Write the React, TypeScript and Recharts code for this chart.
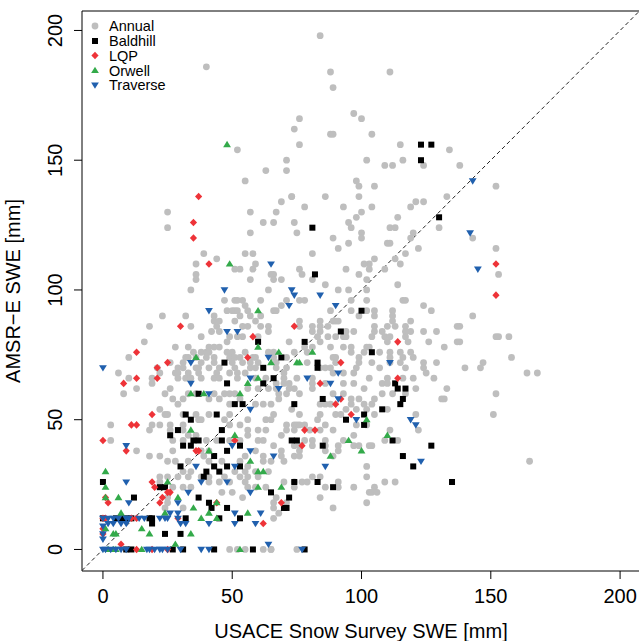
import React from 'react';
import { ScatterChart, Scatter, XAxis, YAxis, ReferenceLine, ReferenceArea } from 'recharts';

// [USACE snow survey SWE, AMSR-E SWE] in mm
const annual: [number, number][] = [
  [40, 186], [52, 154], [63, 146], [55, 142],
  [84, 198], [88, 184], [111, 184], [89, 178], [76, 166], [97, 168], [100, 166], [74, 162], [88, 160], [89, 160],
  [104, 160], [76, 156], [115, 156], [134, 154], [71, 150], [71, 146], [102, 150], [109, 148], [112, 148], [116, 150],
  [124, 148], [138, 148], [98, 142], [99, 140], [105, 140], [73, 136], [86, 136], [99, 136], [133, 136], [152, 140],
  [143, 120], [152, 116], [153, 106], [143, 90], [138, 86], [137, 80], [138, 80], [152, 82], [153, 82], [157, 82],
  [158, 74], [147, 72], [140, 70], [146, 70], [164, 68], [168, 68], [152, 60], [151, 52], [165, 34],
  [25, 130], [57, 130], [25, 124], [62, 126], [57, 122], [39, 114], [44, 112], [55, 114], [58, 114], [36, 110],
  [51, 108], [53, 108], [59, 110], [58, 108], [36, 106], [36, 104], [65, 106], [57, 104], [34, 100], [64, 100],
  [47, 96], [51, 96], [52, 96], [54, 96], [61, 96], [55, 94], [48, 92], [50, 92], [51, 92], [52, 92], [56, 92],
  [23, 90], [32, 90], [43, 90], [53, 90], [57, 90], [61, 90], [43, 88], [45, 88], [51, 88], [59, 88], [18, 86],
  [34, 86], [44, 86], [54, 86], [56, 86], [61, 86], [64, 86], [42, 84], [45, 84], [49, 82], [38, 82], [52, 82],
  [54, 82], [64, 84], [60, 82], [16, 80], [48, 80], [28, 78], [33, 78], [41, 78], [43, 78], [45, 78], [38, 76],
  [40, 76], [41, 76], [35, 76], [48, 76], [50, 76], [55, 76], [64, 76], [10, 74], [32, 74], [33, 74], [36, 74],
  [40, 74], [43, 74], [49, 74], [51, 74], [53, 74], [58, 74], [59, 74], [26, 72], [31, 72], [38, 72], [43, 72],
  [50, 72], [54, 72], [57, 72], [60, 72], [6, 68], [21, 70], [29, 70], [31, 70], [36, 70], [37, 70], [41, 70],
  [45, 70], [51, 70], [57, 70], [59, 70], [22, 68], [28, 68], [29, 68], [33, 68], [37, 68], [44, 68], [49, 68],
  [52, 68], [55, 68], [10, 66], [19, 66], [29, 66], [32, 66], [34, 66], [38, 66], [43, 66], [45, 66], [52, 66],
  [59, 66], [63, 66],
  [69, 134], [73, 136], [67, 130], [78, 132], [93, 132], [104, 132], [121, 134], [124, 134], [66, 126], [74, 126],
  [95, 126], [98, 128], [100, 130], [119, 132], [114, 128], [75, 122], [96, 124], [100, 122], [111, 124], [113, 124],
  [130, 124], [89, 120], [100, 120], [120, 122], [110, 118], [111, 118], [95, 118], [119, 120], [91, 116], [122, 116],
  [81, 114], [105, 112], [103, 110], [101, 110], [113, 112], [117, 114], [115, 110], [109, 108], [103, 108], [94, 108],
  [76, 108], [99, 106], [77, 106], [66, 106], [69, 104], [66, 104], [81, 104], [102, 104], [86, 102], [114, 102],
  [91, 100], [95, 100], [102, 100], [96, 96], [102, 96], [76, 96], [78, 96], [71, 96], [116, 96], [117, 96],
  [69, 94], [66, 92], [67, 92], [88, 92], [96, 92], [102, 92], [105, 92], [112, 92], [124, 94], [127, 92],
  [99, 90], [105, 90], [112, 90], [76, 88], [84, 88], [89, 88], [90, 88], [91, 88], [119, 88], [112, 88],
  [76, 86], [81, 86], [84, 86], [87, 86], [105, 86], [110, 86], [113, 86], [117, 86], [137, 86], [94, 84],
  [97, 84], [81, 84], [84, 84], [105, 84], [108, 84], [117, 84], [119, 84], [124, 84], [129, 84], [72, 80],
  [84, 80], [90, 82], [93, 82], [94, 82], [87, 82], [83, 82], [104, 82], [109, 82], [111, 82], [117, 82],
  [110, 80], [118, 80], [126, 80], [88, 78], [93, 78], [96, 78], [102, 78], [103, 78], [81, 78], [78, 78],
  [132, 78], [66, 76], [74, 76], [79, 76], [96, 76], [101, 76], [107, 76], [111, 76], [115, 76], [119, 76],
  [66, 74], [71, 74], [89, 74], [90, 74], [99, 74], [111, 74], [116, 74], [120, 74], [67, 72], [79, 72],
  [90, 72], [99, 72], [104, 72], [111, 72], [115, 72], [124, 72], [129, 72], [67, 70], [71, 70], [84, 70],
  [86, 70], [88, 70], [98, 70], [107, 70], [117, 70], [124, 70], [70, 66], [75, 66], [81, 66], [103, 66],
  [110, 66], [116, 66], [120, 66], [128, 66], [70, 68], [89, 68], [93, 68], [97, 68], [125, 68], [67, 64],
  [81, 64], [97, 64], [108, 64],
  [8, 60], [13, 62], [19, 64], [24, 60], [26, 62], [27, 58], [29, 56], [31, 58], [33, 60], [36, 60],
  [43, 60], [47, 60], [49, 60], [51, 60], [56, 62], [60, 62], [64, 62], [41, 58], [45, 58], [49, 56],
  [53, 58], [59, 56], [62, 56], [65, 56], [22, 54], [24, 52], [25, 52], [31, 52], [36, 52], [41, 52],
  [49, 52], [37, 50], [38, 50], [47, 50], [56, 50], [63, 50], [3, 48], [19, 48], [22, 48], [26, 48],
  [31, 48], [18, 46], [26, 46], [31, 46], [49, 48], [53, 48], [56, 46], [60, 46], [63, 46], [33, 44],
  [36, 44], [56, 44], [3, 42], [27, 42], [31, 42], [40, 42], [44, 42], [49, 42], [53, 42], [60, 42],
  [62, 42], [13, 38], [27, 38], [38, 38], [41, 38], [18, 36], [22, 36], [39, 36], [55, 36], [59, 38],
  [62, 36], [25, 34], [28, 34], [33, 34], [41, 34], [46, 34], [53, 34], [62, 34], [65, 34], [31, 30],
  [34, 30], [51, 30], [56, 32], [55, 30], [59, 30], [64, 30], [22, 28], [25, 28], [29, 28], [33, 28],
  [38, 28], [41, 28], [47, 28], [53, 28], [56, 28], [60, 28], [22, 26], [41, 26], [45, 26], [49, 26],
  [55, 26], [27, 24], [31, 24], [34, 24], [56, 24], [59, 24], [63, 24], [46, 22], [50, 22], [54, 20],
  [25, 20], [24, 16], [31, 16], [25, 18], [49, 0], [52, 0], [55, 0], [62, 0], [65, 0],
  [70, 64], [72, 64], [74, 62], [76, 60], [67, 62], [72, 62], [81, 62], [86, 64], [93, 64], [101, 62],
  [110, 64], [121, 62], [133, 62], [89, 60], [93, 60], [96, 58], [99, 58], [105, 58], [108, 60], [112, 60],
  [117, 60], [132, 58], [131, 58], [68, 60], [71, 60], [68, 58], [84, 56], [86, 56], [88, 56], [96, 56],
  [101, 56], [104, 56], [66, 52], [73, 54], [76, 52], [84, 52], [90, 52], [92, 52], [94, 54], [98, 54],
  [102, 54], [105, 52], [110, 54], [121, 52], [122, 46], [65, 50], [71, 48], [74, 48], [75, 48], [76, 48],
  [78, 48], [83, 50], [86, 48], [98, 48], [102, 48], [71, 46], [74, 46], [80, 46], [84, 46], [89, 46],
  [69, 44], [78, 42], [81, 42], [86, 42], [93, 42], [97, 44], [109, 42], [114, 42], [111, 46], [66, 40],
  [74, 40], [76, 40], [81, 40], [86, 40], [91, 40], [97, 40], [99, 40], [103, 40], [104, 40], [86, 38],
  [89, 36], [91, 38], [69, 38], [76, 38], [74, 36], [76, 36], [69, 36], [70, 34], [102, 32], [102, 28],
  [109, 26], [113, 26], [70, 26], [74, 26], [77, 26], [79, 26], [81, 28], [84, 28], [91, 26], [74, 24],
  [86, 24], [91, 24], [97, 24], [105, 24], [103, 22], [104, 22], [106, 22], [102, 18], [67, 20], [71, 18],
  [66, 18], [66, 16], [66, 12], [68, 14], [84, 20], [89, 16], [65, 0], [75, 0],
];

const baldhill: [number, number][] = [
  [123, 156], [127, 156], [123, 150], [130, 128], [81, 124], [82, 106], [100, 92], [92, 84], [78, 80], [104, 76],
  [69, 74], [83, 72], [83, 70], [66, 66], [113, 64], [135, 26], [60, 80], [47, 72], [62, 70], [48, 64],
  [62, 64], [37, 60], [51, 56], [54, 56], [32, 52], [34, 50], [44, 52], [29, 46], [26, 44], [46, 46],
  [35, 42], [37, 42], [46, 42], [53, 40], [31, 40], [34, 40], [43, 36], [48, 38], [30, 32], [40, 30],
  [43, 32], [48, 32], [45, 30], [53, 32], [39, 28], [0, 26], [22, 24], [24, 24], [12, 20], [37, 20],
  [41, 18], [48, 16], [42, 16], [0, 12], [5, 12], [7, 12], [9, 12], [11, 12], [18, 12], [19, 12],
  [32, 12], [45, 12], [53, 12], [19, 10], [24, 6], [30, 6], [9, 0], [11, 0], [27, 0], [31, 0],
  [43, 0], [58, 0], [114, 62], [117, 62], [85, 58], [116, 58], [115, 56], [74, 56], [108, 54], [101, 52],
  [94, 50], [101, 48], [73, 42], [75, 42], [112, 42], [127, 40], [85, 40], [116, 36], [120, 32], [74, 26],
  [83, 26], [89, 24], [65, 22], [72, 20], [70, 16], [71, 16], [78, 0],
];

const lqp: [number, number][] = [
  [37, 136], [35, 126], [35, 120], [41, 110], [30, 86], [58, 82], [13, 76], [56, 74], [25, 72], [21, 70],
  [13, 66], [21, 66], [8, 64], [74, 86], [114, 80], [92, 72], [114, 66], [84, 64], [152, 110], [152, 98],
  [19, 52], [11, 48], [13, 48], [0, 42], [51, 42], [9, 38], [36, 38], [37, 38], [19, 26], [20, 24],
  [25, 22], [26, 22], [1, 20], [23, 20], [2, 18], [22, 18], [44, 18], [0, 12], [1, 12], [11, 12],
  [13, 12], [29, 12], [62, 10], [0, 8], [0, 6], [7, 2], [13, 0], [19, 0], [25, 0], [92, 58],
  [90, 56], [96, 52], [78, 46], [82, 46], [77, 40], [69, 18],
];

const orwell: [number, number][] = [
  [48, 156], [49, 110], [60, 92], [60, 78], [36, 74], [65, 72], [60, 66], [56, 64], [68, 76], [81, 76],
  [75, 72], [76, 72], [34, 60], [39, 60], [53, 60], [34, 46], [51, 44], [41, 38], [57, 34], [1, 30],
  [60, 30], [62, 30], [25, 26], [1, 24], [60, 24], [1, 20], [6, 20], [29, 20], [35, 16], [41, 14],
  [44, 18], [1, 8], [4, 6], [5, 6], [15, 8], [18, 6], [34, 6], [38, 12], [44, 12], [56, 14],
  [7, 14], [24, 14], [2, 0], [4, 0], [5, 0], [15, 0], [28, 2], [53, 0], [102, 50], [95, 42],
  [110, 44], [100, 38], [88, 36], [69, 24],
];

const traverse: [number, number][] = [
  [143, 142], [142, 122], [145, 108], [65, 110], [47, 100], [41, 92], [48, 84], [52, 84], [34, 72], [64, 74],
  [0, 70], [57, 66], [34, 64], [73, 100], [74, 98], [84, 98], [72, 94], [90, 94], [111, 72], [91, 68],
  [79, 66], [88, 64], [68, 62], [91, 58], [98, 50], [119, 50], [121, 48], [66, 36], [123, 34], [86, 32],
  [77, 0], [41, 60], [57, 54], [9, 40], [50, 40], [57, 38], [36, 32], [51, 32], [9, 26], [38, 26],
  [48, 26], [33, 22], [57, 22], [10, 18], [29, 18], [30, 10], [32, 10], [41, 10], [51, 10], [59, 10],
  [51, 14], [61, 14], [64, 2], [26, 14], [29, 14], [0, 12], [0, 9], [0, 6], [0, 4], [2, 12],
  [4, 12], [6, 12], [9, 12], [10, 12], [14, 12], [16, 12], [22, 12], [24, 12], [25, 12], [29, 12],
  [2, 10], [4, 10], [7, 10], [9, 10], [0, 0], [1, 0], [3, 0], [5, 0], [7, 0], [9, 0],
  [17, 0], [18, 0], [20, 0], [22, 0], [23, 0], [25, 0], [30, 0], [38, 0], [41, 0],
];

const ticks = [0, 50, 100, 150, 200];
const legendNames = ['Annual', 'Baldhill', 'LQP', 'Orwell', 'Traverse'];

const GRAY = '#bebebe';
const RED = '#ee3338';
const GREEN = '#33aa4a';
const BLUE = '#2060ae';
const FONT = '"Liberation Sans", Arial, Helvetica, sans-serif';

const toXY = (pts: [number, number][]) => pts.map(([x, y]) => ({ x, y }));

const Dot = (p: any) => <circle cx={p.cx} cy={p.cy} r={3.4} fill={GRAY} />;
const Square = (p: any) => <rect x={p.cx - 3} y={p.cy - 3} width={6} height={6} fill="#000" />;
const Diamond = (p: any) => (
  <polygon points={`${p.cx},${p.cy - 3.8} ${p.cx + 3.6},${p.cy} ${p.cx},${p.cy + 3.8} ${p.cx - 3.6},${p.cy}`} fill={RED} />
);
const TriUp = (p: any) => (
  <polygon points={`${p.cx},${p.cy - 3.8} ${p.cx + 3.9},${p.cy + 2.6} ${p.cx - 3.9},${p.cy + 2.6}`} fill={GREEN} />
);
const TriDown = (p: any) => (
  <polygon points={`${p.cx - 3.9},${p.cy - 2.6} ${p.cx + 3.9},${p.cy - 2.6} ${p.cx},${p.cy + 3.8}`} fill={BLUE} />
);
const legendShapes = [Dot, Square, Diamond, TriUp, TriDown];

const XTick = (p: any) => (
  <text x={p.x} y={603} textAnchor="middle" fontSize={20} fontFamily={FONT} fill="#000">
    {p.payload.value}
  </text>
);
const YTick = (p: any) => (
  <text x={62} y={p.y} transform={`rotate(-90, 62, ${p.y})`} textAnchor="middle" fontSize={20} fontFamily={FONT} fill="#000">
    {p.payload.value}
  </text>
);

const X_DOMAIN: [number, number] = [-8.1, 207.7];
const Y_DOMAIN: [number, number] = [-8.3, 207.5];

export default function App() {
  const legendY = [26, 41, 55.5, 70.5, 85];
  return (
    <div style={{ position: 'absolute', left: 0, top: 0, width: 639, height: 641, overflow: 'hidden', background: '#fff' }}>
      <ScatterChart width={660} height={641} margin={{ top: 11, right: 20, bottom: 0, left: 0 }}>
        <XAxis
          type="number"
          dataKey="x"
          domain={X_DOMAIN}
          ticks={ticks}
          allowDataOverflow
          height={70}
          axisLine={false}
          tickSize={8}
          tickLine={{ stroke: '#000' }}
          tick={<XTick />}
        />
        <YAxis
          type="number"
          dataKey="y"
          domain={Y_DOMAIN}
          ticks={ticks}
          allowDataOverflow
          width={82}
          axisLine={false}
          tickSize={8}
          tickLine={{ stroke: '#000' }}
          tick={<YTick />}
        />
        <ReferenceArea x1={X_DOMAIN[0]} x2={X_DOMAIN[1]} y1={Y_DOMAIN[0]} y2={Y_DOMAIN[1]} fill="none" stroke="#000" strokeWidth={1} ifOverflow="visible" />
        <Scatter data={toXY(annual)} shape={Dot} isAnimationActive={false} />
        <Scatter data={toXY(baldhill)} shape={Square} isAnimationActive={false} />
        <Scatter data={toXY(lqp)} shape={Diamond} isAnimationActive={false} />
        <Scatter data={toXY(orwell)} shape={TriUp} isAnimationActive={false} />
        <Scatter data={toXY(traverse)} shape={TriDown} isAnimationActive={false} />
        <ReferenceLine
          segment={[{ x: X_DOMAIN[0], y: X_DOMAIN[0] }, { x: 207.5, y: 207.5 }]}
          stroke="#222"
          strokeWidth={1}
          strokeDasharray="4 3"
          ifOverflow="hidden"
        />
      </ScatterChart>
      <svg width={639} height={641} style={{ position: 'absolute', left: 0, top: 0, pointerEvents: 'none' }}>
        {legendNames.map((name, i) => {
          const Shape = legendShapes[i];
          return (
            <g key={name}>
              <Shape cx={95} cy={legendY[i]} />
              <text x={109} y={legendY[i] + 5.2} fontSize={14.5} fontFamily={FONT} fill="#000">
                {name}
              </text>
            </g>
          );
        })}
        <text x={361} y={638} textAnchor="middle" fontSize={20} fontFamily={FONT} fill="#000">
          USACE Snow Survey SWE [mm]
        </text>
        <text x={20} y={291} transform="rotate(-90, 20, 291)" textAnchor="middle" fontSize={20} fontFamily={FONT} fill="#000">
          AMSR−E SWE [mm]
        </text>
      </svg>
    </div>
  );
}
